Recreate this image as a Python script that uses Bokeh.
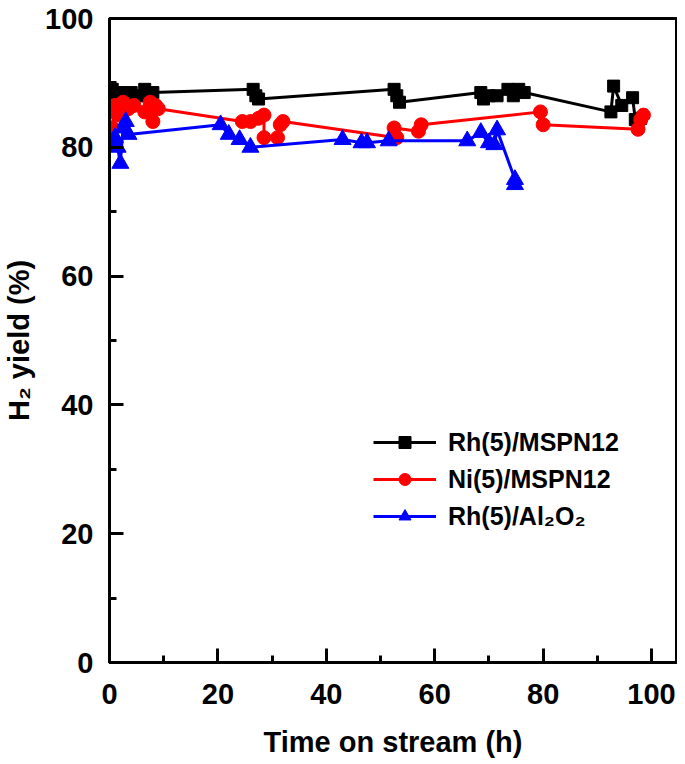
from bokeh.plotting import figure
from bokeh.models import Legend, LegendItem, FixedTicker, Range1d
from bokeh.embed import file_html
from bokeh.resources import INLINE

# ---- data ----
rh_mspn_x = [0.5, 1, 2, 3, 4, 5, 6.5, 7, 7.5, 8, 26.5, 27, 27.5, 52.5, 53, 53.5,
             68.5, 69, 70, 71.5, 73.5, 74.5, 75.5, 76.5, 92.5, 93, 94.5, 96.5, 97, 98]
rh_mspn_y = [89, 88.5, 88.5, 88, 88.5, 88, 89, 88, 86.5, 88.5, 89, 88, 87.5, 89, 88, 87,
             88.5, 87.5, 88, 88, 89, 88, 89, 88.5, 85.5, 89.5, 86.5, 87.7, 84.3, 84.5]

ni_mspn_x = [0.5, 1, 1.5, 2.5, 3.5, 4.5, 6.5, 7.5, 8, 8.5, 9, 24.5, 26, 27.5, 28.5, 28.5,
             31, 31.5, 32, 53, 52.5, 57, 57.5, 79.5, 80, 97.5, 98, 98.5]
ni_mspn_y = [83, 86.5, 85, 87, 86, 86.5, 85.5, 87, 84, 86.5, 86, 84, 84, 84.5, 85, 81.5,
             81.5, 83.5, 84, 81.5, 83, 82.5, 83.5, 85.5, 83.5, 82.8, 84.3, 85]

rh_al_x = [0.5, 1, 1.5, 2, 2.5, 3, 3.5, 20.5, 22, 24, 26, 43, 46.5, 47.5, 51.5, 66,
           68.5, 70, 71, 71.5, 74.8, 74.8]
rh_al_y = [80.5, 81.5, 80, 77.5, 83, 84, 82, 83.5, 82, 81.2, 80, 81.2, 80.7, 80.7, 81, 81,
           82.3, 80.7, 80.4, 82.7, 75, 74.2]

series_labels = ["Rh(5)/MSPN12", "Ni(5)/MSPN12", "Rh(5)/Al\u2082O\u2082"]
x_ticks = [0, 20, 40, 60, 80, 100]
x_minor = [10, 30, 50, 70, 90]
y_ticks = [0, 20, 40, 60, 80, 100]
y_minor = [10, 30, 50, 70, 90]

FONT = "Liberation Sans"

p = figure(width=677, height=761, output_backend="svg", toolbar_location=None,
           x_range=Range1d(0, 104.6), y_range=Range1d(0, 100),
           min_border_left=106, min_border_right=1, min_border_top=18, min_border_bottom=99,
           x_axis_label="Time on stream (h)", y_axis_label="H\u2082 yield (%)")

p.grid.visible = False
p.outline_line_color = "black"
p.outline_line_width = 3
p.background_fill_color = "white"
p.border_fill_color = "white"

p.xaxis.ticker = FixedTicker(ticks=x_ticks, minor_ticks=x_minor)
p.yaxis.ticker = FixedTicker(ticks=y_ticks, minor_ticks=y_minor)

for ax in (p.xaxis[0], p.yaxis[0]):
    ax.axis_line_width = 3
    ax.axis_line_color = "black"
    ax.major_tick_in = 14
    ax.major_tick_out = 0
    ax.minor_tick_in = 7
    ax.minor_tick_out = 0
    ax.major_tick_line_width = 3
    ax.major_tick_line_color = "black"
    ax.minor_tick_line_width = 3
    ax.minor_tick_line_color = "black"
    ax.major_label_text_font = FONT
    ax.major_label_text_font_style = "bold"
    ax.major_label_text_font_size = "29px"
    ax.major_label_text_color = "black"
    ax.axis_label_text_font = FONT
    ax.axis_label_text_font_style = "bold"
    ax.axis_label_text_font_size = "29px"
    ax.axis_label_text_color = "black"

p.xaxis.major_label_standoff = 21
p.xaxis.axis_label_standoff = 19
p.yaxis.major_label_standoff = 16
p.yaxis.axis_label_standoff = 7

l1 = p.line(rh_mspn_x, rh_mspn_y, line_color="black", line_width=3)
s1 = p.scatter(rh_mspn_x, rh_mspn_y, marker="square", size=12, fill_color="black", line_color="black")
l2 = p.line(ni_mspn_x, ni_mspn_y, line_color="#FF0000", line_width=3)
s2 = p.scatter(ni_mspn_x, ni_mspn_y, marker="circle", size=14, fill_color="#FF0000", line_color="#FF0000")
l3 = p.line(rh_al_x, rh_al_y, line_color="#0000FF", line_width=3)
s3 = p.scatter(rh_al_x, rh_al_y, marker="triangle", size=17, fill_color="#0000FF", line_color="#0000FF")

legend = Legend(items=[
    LegendItem(label=series_labels[0], renderers=[l1, s1]),
    LegendItem(label=series_labels[1], renderers=[l2, s2]),
    LegendItem(label=series_labels[2], renderers=[l3, s3]),
], location=(264, 131))
legend.border_line_color = None
legend.background_fill_alpha = 0
legend.padding = 0
legend.margin = 0
legend.spacing = 7
legend.glyph_width = 63
legend.glyph_height = 30
legend.label_height = 30
legend.label_standoff = 12
legend.label_text_font = FONT
legend.label_text_font_style = "bold"
legend.label_text_font_size = "25px"
legend.label_text_color = "black"
p.add_layout(legend, "center")

open("out.html", "w").write(file_html(p, INLINE))
